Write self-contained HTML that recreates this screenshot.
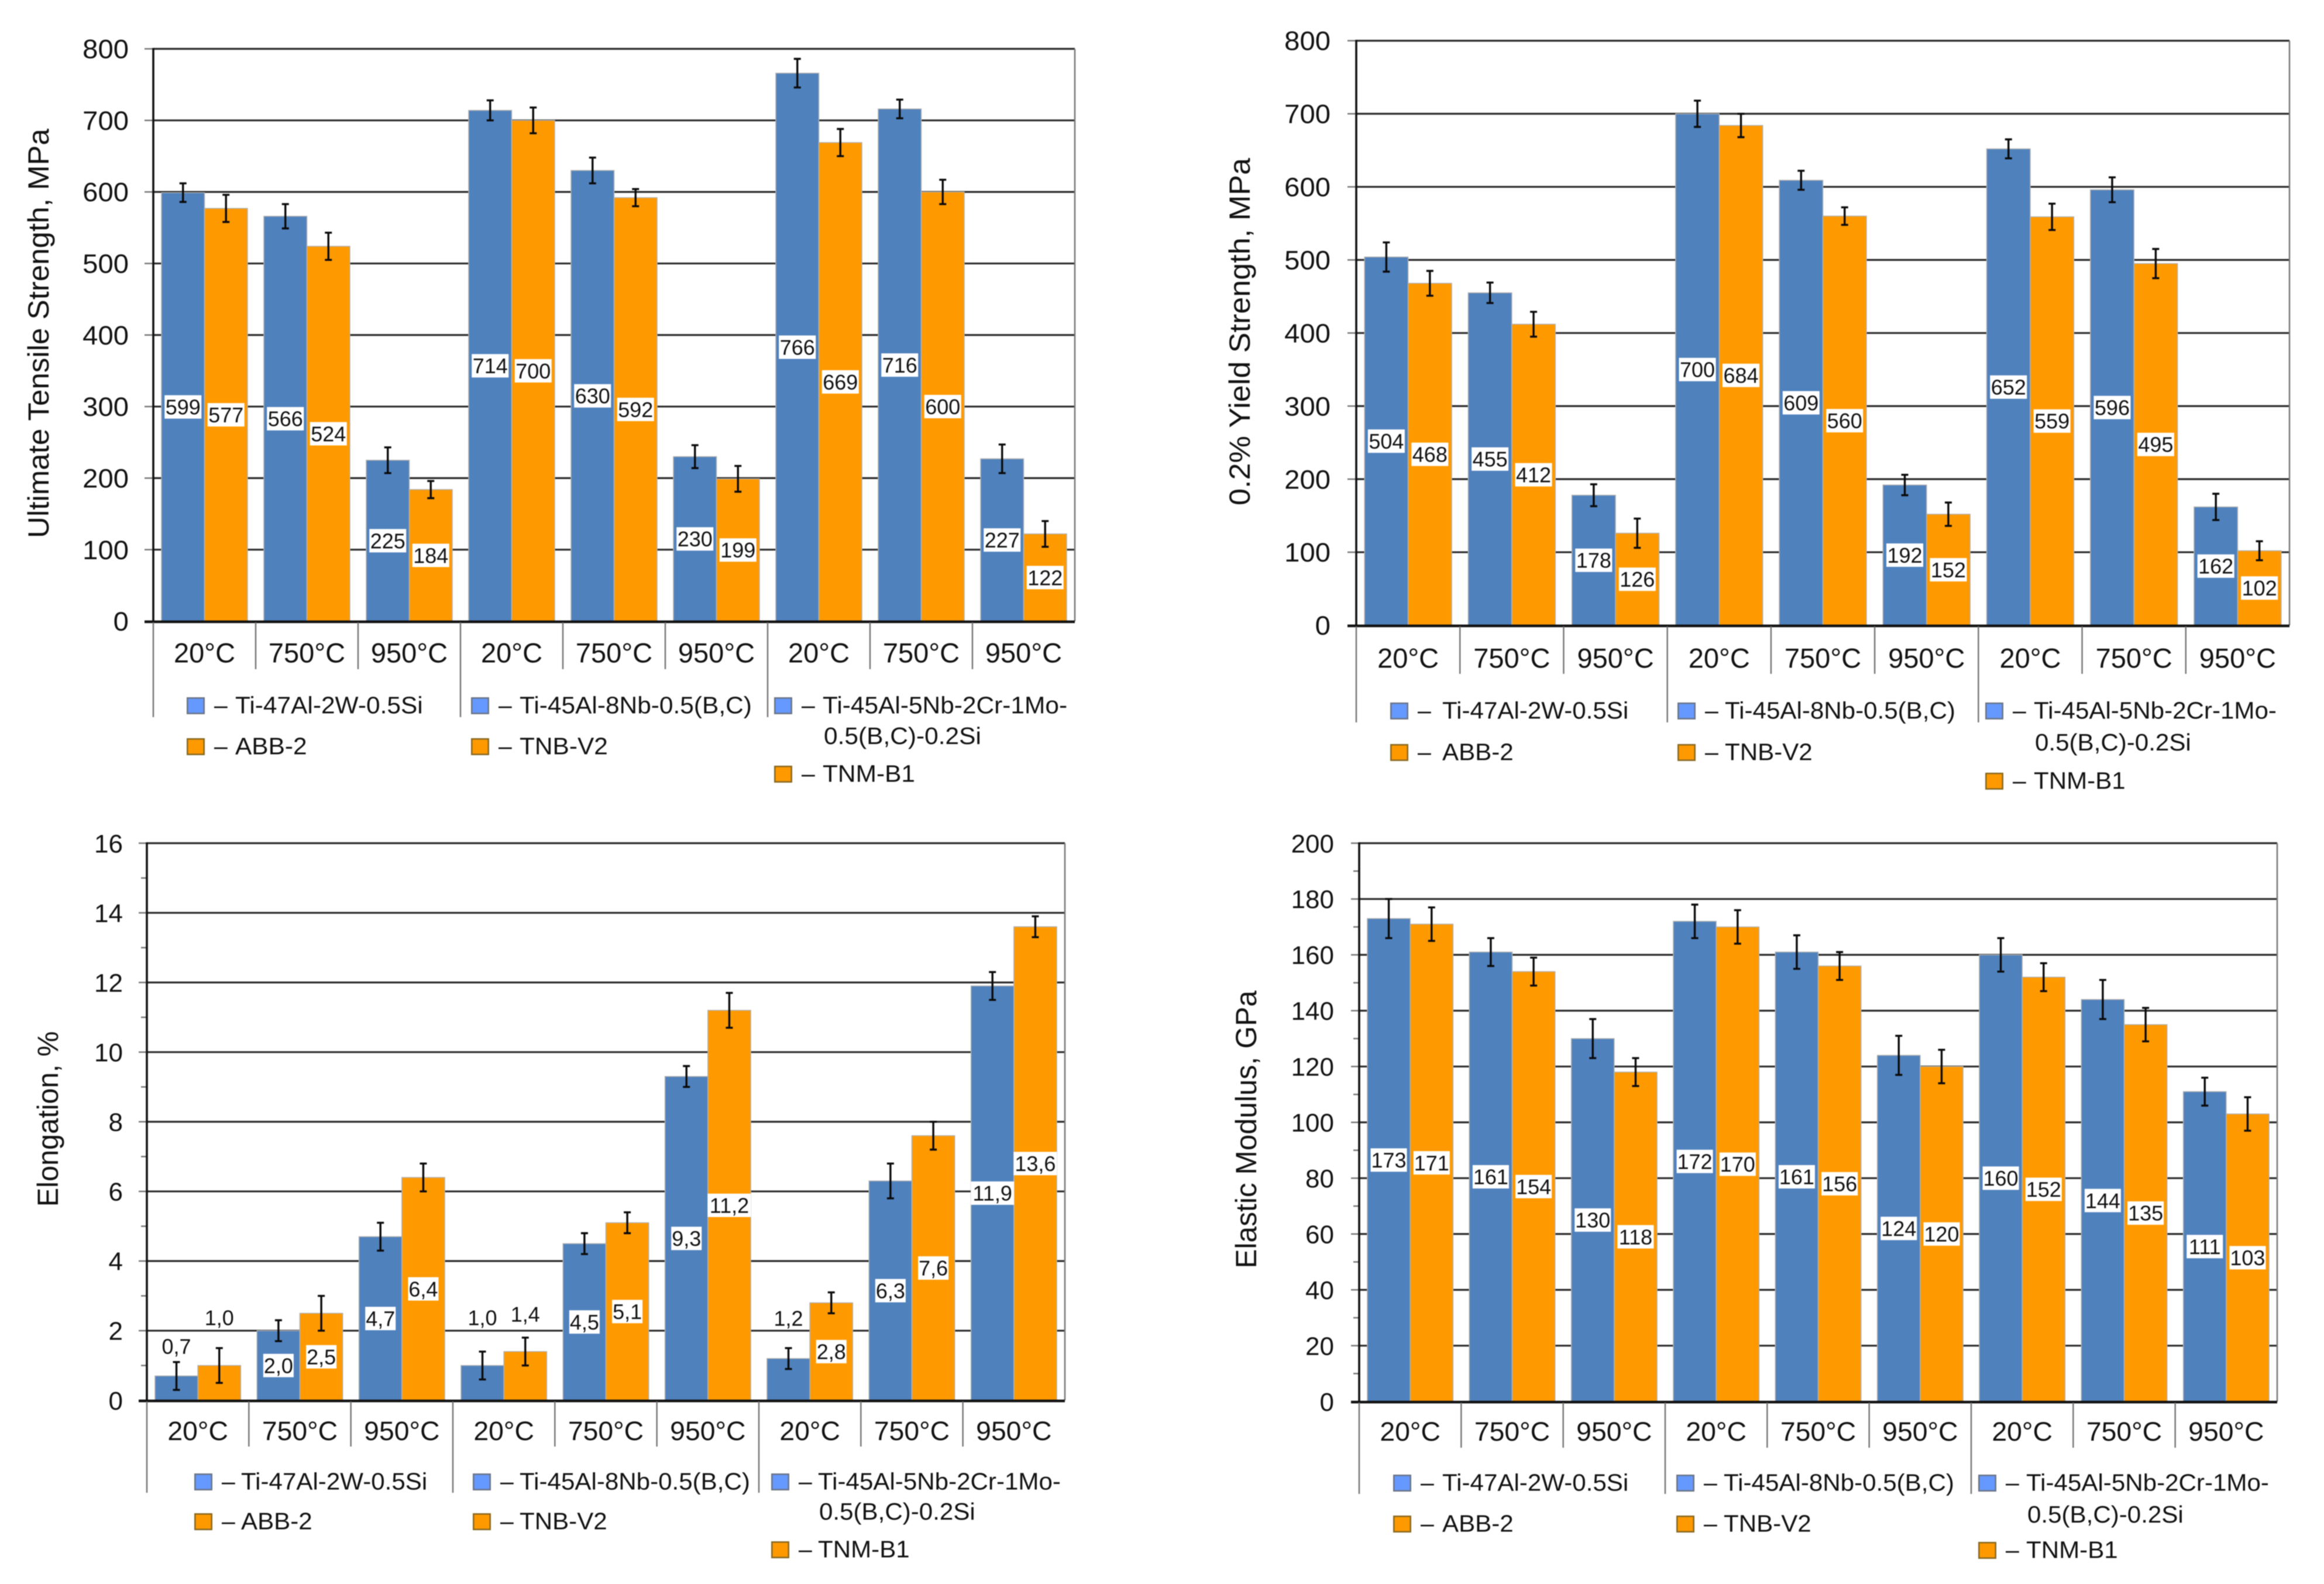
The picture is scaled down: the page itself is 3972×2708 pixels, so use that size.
<!DOCTYPE html>
<html lang="en">
<head>
<meta charset="utf-8">
<title>Mechanical properties of TiAl alloys at temperature</title>
<style>
html,body{margin:0;padding:0;background:#fff;width:3972px;height:2708px;overflow:hidden}
svg{display:block;font-family:"Liberation Sans",Arial,sans-serif;filter:blur(0.8px)}
text{fill:#111}
</style>
</head>
<body>
<svg id="figure" xmlns="http://www.w3.org/2000/svg" width="3972" height="2708" viewBox="0 0 3972 2708"></svg>
<script>
const categories = ["20°C","750°C","950°C","20°C","750°C","950°C","20°C","750°C","950°C"];
const legendBlueAlloys = ["Ti-47Al-2W-0.5Si","Ti-45Al-8Nb-0.5(B,C)","Ti-45Al-5Nb-2Cr-1Mo-"];
const legendBlueContinuation = "0.5(B,C)-0.2Si";
const legendOrangeAlloys = ["ABB-2","TNB-V2","TNM-B1"];

const utsTicks = [0,100,200,300,400,500,600,700,800];
const utsBlue = [599,566,225,714,630,230,766,716,227];
const utsOrange = [577,524,184,700,592,199,669,600,122];
const utsBlueErr = [13,17,18,14,18,16,20,13,20];
const utsOrangeErr = [19,19,12,18,12,18,19,17,18];

const ysTicks = [0,100,200,300,400,500,600,700,800];
const ysBlue = [504,455,178,700,609,192,652,596,162];
const ysOrange = [468,412,126,684,560,152,559,495,102];
const ysBlueErr = [20,14,15,18,13,14,13,17,18];
const ysOrangeErr = [17,17,20,16,12,16,18,20,13];

const elongTicks = [0,2,4,6,8,10,12,14,16];
const elongBlue = [0.7,2.0,4.7,1.0,4.5,9.3,1.2,6.3,11.9];
const elongOrange = [1.0,2.5,6.4,1.4,5.1,11.2,2.8,7.6,13.6];
const elongBlueErr = [0.4,0.3,0.4,0.4,0.3,0.3,0.3,0.5,0.4];
const elongOrangeErr = [0.5,0.5,0.4,0.4,0.3,0.5,0.3,0.4,0.3];

const modTicks = [0,20,40,60,80,100,120,140,160,180,200];
const modBlue = [173,161,130,172,161,124,160,144,111];
const modOrange = [171,154,118,170,156,120,152,135,103];
const modBlueErr = [7,5,7,6,6,7,6,7,5];
const modOrangeErr = [6,5,5,6,5,6,5,6,6];

const BLUE = "#4f81bd", ORANGE = "#ff9900";
const svg = document.getElementById("figure");
const NS = "http://www.w3.org/2000/svg";

function make(parent, tag, attrs){
  const node = document.createElementNS(NS, tag);
  for (const k in attrs) node.setAttribute(k, attrs[k]);
  parent.appendChild(node);
  return node;
}
function stretchText(node, factor){
  const w = node.getComputedTextLength();
  node.setAttribute("textLength", (w*factor).toFixed(1));
  node.setAttribute("lengthAdjust", "spacingAndGlyphs");
}

function drawChart(c){
  const g = make(svg, "g", {});
  
  

  const maxV = c.ticks[c.ticks.length-1];
  const yScale = v => c.y0 - (v/maxV)*(c.y0-c.yTop);
  const groupW = (c.xR-c.xL)/categories.length;
  const xBand = i => c.xL + i*groupW;
  const barW = groupW*c.barFrac;
  const barOffset = (groupW-2*barW)/2;

  // minor ticks
  if (c.minor){
    for (let i=0;i<c.ticks.length-1;i++){
      const mv = (c.ticks[i]+c.ticks[i+1])/2;
      const mt = make(g,"line",{x1:c.xL-10,x2:c.xL,y1:yScale(mv),y2:yScale(mv),stroke:"#777","stroke-width":2.5});
      
      
    }
  }
  // gridlines, ticks, tick labels
  c.ticks.forEach(t=>{
    const y = yScale(t);
    const tk = make(g,"line",{x1:c.xL-c.tickLen,x2:c.xL,y1:y,y2:y,stroke:"#777","stroke-width":2.5});
    
    
    if (t>0){
      const gl = make(g,"line",{x1:c.xL,x2:c.xR,y1:y,y2:y,stroke:"#2b2b2b","stroke-width":3.2});
      
      
    }
    const lb = make(g,"text",{x:c.tickRight,y:y+c.tickFont*0.358,"text-anchor":"end","font-size":c.tickFont});
    lb.textContent = t;
    
    
    stretchText(lb, c.tickStretch);
  });

  // bars
  [[c.blue,BLUE,c.blueErr,0,'blue'],[c.orange,ORANGE,c.orangeErr,1,'orange']].forEach(s=>{
    s[0].forEach((v,i)=>{
      const x = xBand(i)+barOffset+s[3]*barW;
      const r = make(g,"rect",{x:x,y:yScale(v),width:barW,height:c.y0-yScale(v),fill:s[1],stroke:"#b0b0b0","stroke-width":1.5});
      
      
    });
  });
  // error bars
  [[c.blue,c.blueErr,0,'blue'],[c.orange,c.orangeErr,1,'orange']].forEach(s=>{
    s[0].forEach((v,i)=>{
      const cx = xBand(i)+barOffset+(s[2]+0.5)*barW;
      const top = yScale(v+s[1][i]), bot = yScale(v-s[1][i]);
      const eb = make(g,"path",{d:`M${cx-6} ${top}H${cx+6}M${cx} ${top}V${bot}M${cx-6} ${bot}H${cx+6}`,fill:"none",stroke:"#0a0a0a","stroke-width":3.4});
      
      
    });
  });
  // value labels
  [[c.blue,c.blueErr,0,'b'],[c.orange,c.orangeErr,1,'o']].forEach(s=>{
    s[0].forEach((v,i)=>{
      const cx = xBand(i)+barOffset+(s[2]+0.5)*barW;
      const key = s[3]+i;
      const rise = c.labelRise ? c.labelRise[key] : undefined;
      const text = c.format(v);
      if (rise !== undefined){
        const cy = yScale(v+s[1][i])-rise;
        const t = make(g,"text",{x:cx,y:cy+c.labelFont*0.358,"text-anchor":"middle","font-size":c.labelFont});
        t.textContent = text;
        
        
      } else {
        const cy = yScale(v/2);
        const w = text.length > 3 ? 74 : c.boxW;
        const box = make(g,"rect",{x:cx-w/2,y:cy-20,width:w,height:40,fill:"#fff"});
        
        
        const t = make(g,"text",{x:cx,y:cy+c.labelFont*0.358,"text-anchor":"middle","font-size":c.labelFont});
        t.textContent = text;
        
        
      }
    });
  });

  // axes / frame
  const la = make(g,"line",{x1:c.xL,x2:c.xL,y1:c.yTop-1.5,y2:c.y0,stroke:"#111","stroke-width":3.6});
  
  
  const ra = make(g,"line",{x1:c.xR,x2:c.xR,y1:c.yTop,y2:c.y0,stroke:"#777","stroke-width":2.5});
  
  
  const ba = make(g,"line",{x1:c.xL-c.tickLen,x2:c.xR,y1:c.y0+1,y2:c.y0+1,stroke:"#111","stroke-width":4.5});
  
  

  // category dividers and labels
  categories.forEach((cat,i)=>{
    const x = xBand(i);
    const dv = make(g,"line",{x1:x,x2:x,y1:c.y0+2,y2:(i%3===0)?c.longBottom:c.shortBottom,stroke:"#777","stroke-width":2.5});
    
    
    const t = make(g,"text",{x:x+groupW/2,y:c.catY+c.catFont*0.358,"text-anchor":"middle","font-size":c.catFont});
    t.textContent = cat;
    
    
    stretchText(t, c.catStretch);
  });

  // y-axis title
  const ty = make(g,"text",{x:c.titleX,y:c.titleCy,"text-anchor":"middle","font-size":c.titleFont,transform:`rotate(-90 ${c.titleX} ${c.titleCy})`});
  ty.textContent = c.title;
  
  
  ty.setAttribute("textLength", c.titleLen);
  ty.setAttribute("lengthAdjust", "spacingAndGlyphs");

  // legend
  const entry = (sx, sy, textX, fill, stroke, label) => {
    const sw = make(g,"rect",{x:sx+1.3,y:sy+1.3,width:28.4,height:26.4,fill:fill,stroke:stroke,"stroke-width":2.6});
    
    
    const d = make(g,"text",{x:sx+47,y:sy+27.7,"font-size":c.legFont,"fill":"#444"});
    d.textContent = "–";
    
    
    const t = make(g,"text",{x:textX,y:sy+27.7,"font-size":c.legFont});
    t.textContent = label;
    
    
    stretchText(t, c.legStretch);
  };
  const BS = "#6b7588", OS = "#8a6a20", LB = "#6699ff";
  entry(c.col1[0], c.row1, c.col1[1], LB, BS, legendBlueAlloys[0]);
  entry(c.col2[0], c.row1, c.col2[1], LB, BS, legendBlueAlloys[1]);
  entry(c.col3[0], c.row1, c.col3[1], LB, BS, legendBlueAlloys[2]);
  entry(c.col1[0], c.row2, c.col1[1], ORANGE, OS, legendOrangeAlloys[0]);
  entry(c.col2[0], c.row2, c.col2[1], ORANGE, OS, legendOrangeAlloys[1]);
  entry(c.col3[0], c.row3, c.col3[1], ORANGE, OS, legendOrangeAlloys[2]);
  const cont = make(g,"text",{x:c.col3[1]+2,y:c.contY+15,"font-size":c.legFont});
  cont.textContent = legendBlueContinuation;
  
  
  stretchText(cont, c.legStretch);
}

const intFmt = v => String(v);
const commaFmt = v => v.toFixed(1).replace(".", ",");

drawChart({
  id:"uts", title:"Ultimate Tensile Strength, MPa", titleX:83, titleCy:570, titleLen:700, titleFont:50,
  ticks:utsTicks, blue:utsBlue, orange:utsOrange, blueErr:utsBlueErr, orangeErr:utsOrangeErr,
  xL:262, xR:1837, yTop:83.5, y0:1062, barFrac:0.42, minor:false, tickLen:15,
  tickRight:220, tickFont:45, tickStretch:1.05, labelFont:36, boxW:63, format:intFmt,
  catY:1115.5, catFont:47, catStretch:1.0, shortBottom:1144, longBottom:1226,
  legFont:41, legStretch:1.035, col1:[319,402], col2:[805,888], col3:[1323,1406], row1:1192, row2:1262, row3:1309, contY:1257
});
drawChart({
  id:"yield", title:"0.2% Yield Strength, MPa", titleX:2136, titleCy:567, titleLen:594, titleFont:50,
  ticks:ysTicks, blue:ysBlue, orange:ysOrange, blueErr:ysBlueErr, orangeErr:ysOrangeErr,
  xL:2318, xR:3913, yTop:69.6, y0:1069, barFrac:0.42, minor:false, tickLen:15,
  tickRight:2274, tickFont:45, tickStretch:1.05, labelFont:36, boxW:63, format:intFmt,
  catY:1124.5, catFont:47, catStretch:1.0, shortBottom:1152, longBottom:1235,
  legFont:41, legStretch:1.027, col1:[2376,2465], col2:[2867,2948], col3:[3393,3476], row1:1201, row2:1272, row3:1321, contY:1268
});
drawChart({
  id:"elongation", title:"Elongation, %", titleX:99, titleCy:1913, titleLen:300, titleFont:50,
  ticks:elongTicks, blue:elongBlue, orange:elongOrange, blueErr:elongBlueErr, orangeErr:elongOrangeErr,
  xL:251, xR:1820, yTop:1441.5, y0:2394, barFrac:0.42, minor:true, tickLen:14,
  tickRight:210, tickFont:44, tickStretch:1.0, labelFont:36, boxW:52, format:commaFmt,
  labelRise:{b0:27, o0:52, b3:58, o3:40, b6:51},
  catY:2445.7, catFont:45, catStretch:1.03, shortBottom:2473, longBottom:2552,
  legFont:41, legStretch:1.027, col1:[332,412], col2:[808,888], col3:[1318,1398], row1:2519, row2:2587, row3:2635, contY:2583
});
drawChart({
  id:"modulus", title:"Elastic Modulus, GPa", titleX:2147, titleCy:1931, titleLen:475, titleFont:50,
  ticks:modTicks, blue:modBlue, orange:modOrange, blueErr:modBlueErr, orangeErr:modOrangeErr,
  xL:2323, xR:3892, yTop:1441.5, y0:2396, barFrac:0.42, minor:true, tickLen:14,
  tickRight:2280, tickFont:44, tickStretch:1.0, labelFont:36, boxW:62, format:intFmt,
  catY:2447, catFont:45, catStretch:1.03, shortBottom:2475, longBottom:2554,
  legFont:41, legStretch:1.027, col1:[2381,2465], col2:[2865,2946], col3:[3381,3463], row1:2521, row2:2591, row3:2636, contY:2588
});
</script>
</body>
</html>
